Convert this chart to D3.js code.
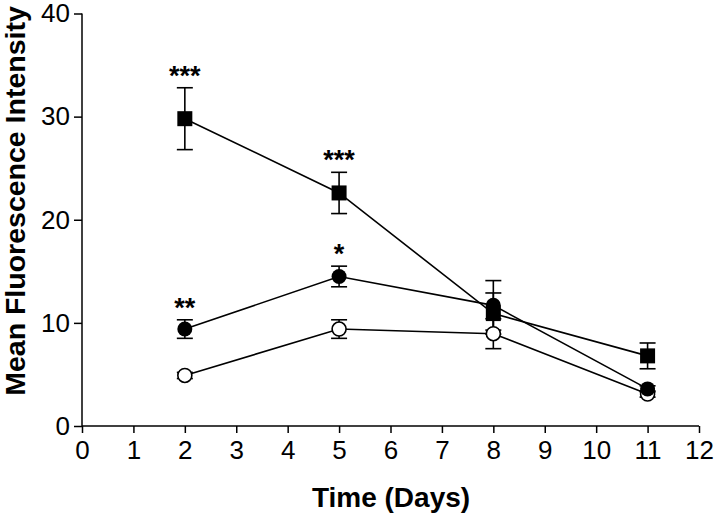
<!DOCTYPE html>
<html><head><meta charset="utf-8">
<script src="https://cdn.jsdelivr.net/npm/d3@7"></script>
<style>body{margin:0;background:#fff}svg{display:block}</style>
</head><body>
<svg id="c" width="720" height="516"></svg>
<script>
const days = [2, 5, 8, 11];
const squareMean = [29.8, 22.6, 10.9, 6.8];
const squareErr  = [3.0, 2.0, 2.0, 1.25];
const filledMean = [9.4, 14.5, 11.7, 3.6];
const filledErr  = [0.9, 1.0, 2.4, 0.3];
const openMean   = [4.9, 9.4, 8.95, 3.1];
const openErr    = [0.3, 0.9, 1.45, 0.3];
const starLabels = [
  {series: "square", day: 2, label: "***"},
  {series: "square", day: 5, label: "***"},
  {series: "filled", day: 2, label: "**"},
  {series: "filled", day: 5, label: "*"}
];
const xTicks = [0,1,2,3,4,5,6,7,8,9,10,11,12];
const yTicks = [0,10,20,30,40];

const font = "'Liberation Sans', Arial, Helvetica, sans-serif";
const svg = d3.select("#c");
const x = d3.scaleLinear().domain([0,12]).range([82,699]);
const y = d3.scaleLinear().domain([0,40]).range([426,13.5]);

const mk = (means, errs) => days.map((d,i)=>({day:d, v:means[i], e:errs[i]}));
const series = [
  {name:"open", data: mk(openMean, openErr)},
  {name:"filled", data: mk(filledMean, filledErr)},
  {name:"square", data: mk(squareMean, squareErr)}
];

// axes
const xAxis = d3.axisBottom(x).tickValues(xTicks).tickSize(7).tickPadding(8).tickFormat(d3.format("d"));
const yAxis = d3.axisLeft(y).tickValues(yTicks).tickSize(8).tickPadding(4).tickFormat(d3.format("d"));
const gx = svg.append("g").attr("transform","translate(0,426)").call(xAxis);
const gy = svg.append("g").attr("transform","translate(82,0)").call(yAxis);
[gx,gy].forEach(g=>{
  g.select(".domain").attr("stroke","#000").attr("stroke-width",1.5);
  g.selectAll(".tick line").attr("stroke","#000").attr("stroke-width",1.5);
  g.selectAll(".tick text").attr("fill","#000").style("font-family",font).style("font-size","26px");
});
gx.select(".domain").attr("d", `M${x(0)},0H${x(12)}`);
gy.select(".domain").attr("d", `M0,${y(0)}V${y(40)}`);

// lines
const line = d3.line().x(d=>x(d.day)).y(d=>y(d.v));
series.forEach(s=>{
  svg.append("path").datum(s.data).attr("d",line)
    .attr("fill","none").attr("stroke","#000").attr("stroke-width",1.6);
});
// error bars
const cap = 8;
series.forEach(s=>{
  const g = svg.append("g").attr("stroke","#000").attr("stroke-width",1.6);
  s.data.forEach(d=>{
    g.append("line").attr("x1",x(d.day)).attr("x2",x(d.day)).attr("y1",y(d.v-d.e)).attr("y2",y(d.v+d.e));
    g.append("line").attr("x1",x(d.day)-cap).attr("x2",x(d.day)+cap).attr("y1",y(d.v-d.e)).attr("y2",y(d.v-d.e));
    g.append("line").attr("x1",x(d.day)-cap).attr("x2",x(d.day)+cap).attr("y1",y(d.v+d.e)).attr("y2",y(d.v+d.e));
  });
});
// markers
const byName = Object.fromEntries(series.map(s=>[s.name,s]));
svg.append("g").selectAll("circle").data(byName.open.data).join("circle")
  .attr("cx",d=>x(d.day)).attr("cy",d=>y(d.v)).attr("r",7)
  .attr("fill","#fff").attr("stroke","#000").attr("stroke-width",1.6);
svg.append("g").selectAll("circle").data(byName.filled.data).join("circle")
  .attr("cx",d=>x(d.day)).attr("cy",d=>y(d.v)).attr("r",7.5)
  .attr("fill","#000");
svg.append("g").selectAll("rect").data(byName.square.data).join("rect")
  .attr("x",d=>x(d.day)-7.5).attr("y",d=>y(d.v)-7.5).attr("width",15).attr("height",15)
  .attr("fill","#000");

// significance stars
svg.append("g").selectAll("text").data(starLabels).join("text")
  .attr("x",d=>x(d.day))
  .attr("y",d=>{
    const s = byName[d.series].data.find(p=>p.day===d.day);
    return y(s.v+s.e) - 18 + 15;
  })
  .attr("text-anchor","middle")
  .style("font-family",font).style("font-size","27px").style("font-weight","bold")
  .text(d=>d.label);

// axis titles
svg.append("text").attr("x",391).attr("y",507).attr("text-anchor","middle")
  .style("font-family",font).style("font-size","28px").style("font-weight","bold")
  .text("Time (Days)");
svg.append("text").attr("transform","translate(25,201) rotate(-90)").attr("text-anchor","middle")
  .style("font-family",font).style("font-size","28.5px").style("font-weight","bold")
  .text("Mean Fluorescence Intensity");
</script>
</body></html>
